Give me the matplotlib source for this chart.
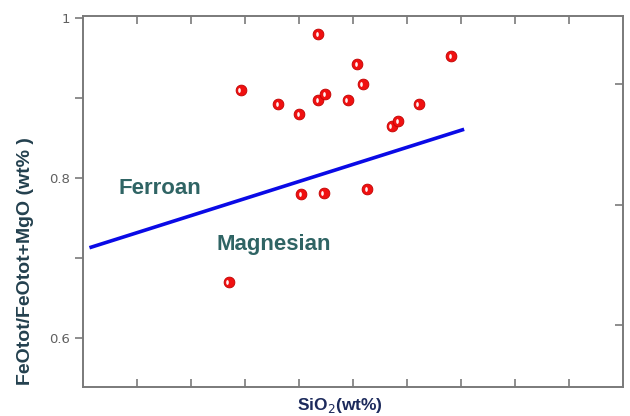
import matplotlib
matplotlib.use("Agg")
import matplotlib.pyplot as plt
from matplotlib.markers import MarkerStyle
from matplotlib.transforms import Affine2D, offset_copy

# samples
sio2 = [59.6, 63.1, 65.0, 66.8, 66.8, 67.4, 69.5, 70.4, 70.9, 73.6, 74.2,
        76.1, 79.1, 65.2, 67.3, 71.3, 58.5]
feo_ratio = [0.910, 0.892, 0.880, 0.980, 0.898, 0.905, 0.897, 0.943, 0.917,
             0.865, 0.871, 0.892, 0.952, 0.780, 0.781, 0.787, 0.670]

# ferroan / magnesian boundary
line_x = [45.6, 80.3]
line_y = [0.713, 0.861]

fig = plt.figure(figsize=(6.3, 4.16), dpi=100)
ax = fig.add_axes([0.1317, 0.0697, 0.857, 0.8918])

spine_col = "#7a7a7a"
for s in ax.spines.values():
    s.set_color(spine_col)
    s.set_linewidth(1.4)

ax.plot(line_x, line_y, color="#0a0ae6", lw=2.6, solid_capstyle="butt", zorder=2)

ax.scatter(sio2, feo_ratio, s=60, color="#f01010", edgecolor="#c00000",
           linewidth=0.6, zorder=3)
hl = MarkerStyle("o", transform=Affine2D().scale(0.55, 1.0))
ax.scatter(sio2, feo_ratio, s=12, marker=hl, color="#fff4f4", linewidth=0,
           zorder=4, transform=offset_copy(ax.transData, fig=fig, x=-1.3, y=0, units="dots"))

ax.set_xlim(45, 95)
ax.set_ylim(0.539, 1.0025)

ax.set_xticks([50, 55, 60, 65, 70, 75, 80, 85, 90])
ax.set_xticklabels([])
ax.tick_params(axis="x", direction="in", top=True, bottom=True, length=6,
               width=1.2, color=spine_col)

ax.set_yticks([0.6, 0.7, 0.8, 0.9, 1.0])
ax.set_yticklabels(["0.6", "", "0.8", "", "1"])
ax.tick_params(axis="y", direction="out", left=True, right=False, length=6,
               width=1.2, color=spine_col, labelsize=9.5, labelcolor="#606060")

ax2 = ax.twinx()
ax2.set_ylim(-0.51, 2.56)
ax2.set_yticks([0, 1, 2])
ax2.set_yticklabels([])
ax2.tick_params(axis="y", direction="in", length=6, width=1.2, color=spine_col)
for s in ax2.spines.values():
    s.set_visible(False)

ax.text(0.065, 0.536, "Ferroan", transform=ax.transAxes, fontsize=16,
        fontweight="bold", color="#2f6464", family="Liberation Sans", va="center")
ax.text(0.248, 0.383, "Magnesian", transform=ax.transAxes, fontsize=16,
        fontweight="bold", color="#2f6464", family="Liberation Sans", va="center")

ax.set_xlabel("SiO$_2$(wt%)", fontsize=12.5, fontweight="bold", color="#1c2a5c",
              family="Liberation Sans")
ax.xaxis.set_label_coords(0.476, -0.025, transform=ax.transAxes)
ax.xaxis.label.set_va("top")
ax.set_ylabel("FeOtot/FeOtot+MgO (wt% )", fontsize=14, fontweight="bold",
              color="#23404e", family="Liberation Sans")
ax.yaxis.set_label_coords(-0.09, 0.34, transform=ax.transAxes)

fig.savefig("out.png", dpi=100)
